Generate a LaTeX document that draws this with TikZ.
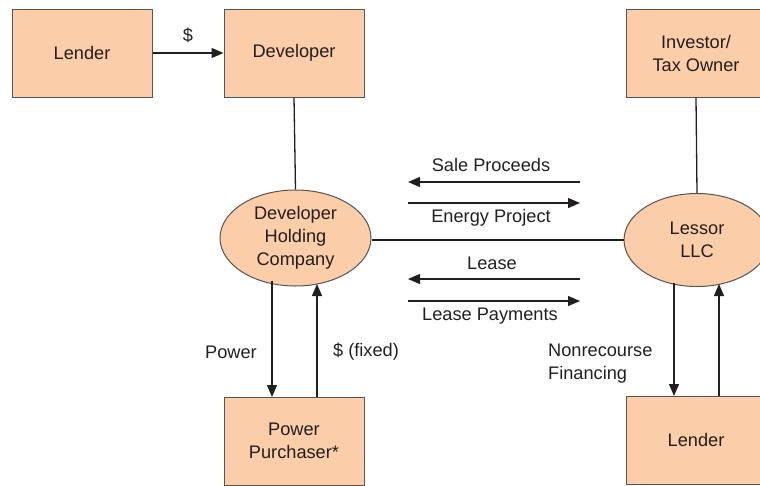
\documentclass[tikz,border=0pt]{standalone}
\usepackage{fontspec}
\setmainfont{Liberation Sans}
\usetikzlibrary{arrows.meta,shapes.geometric}
\definecolor{peach}{HTML}{FBCDA8}
\definecolor{edge}{HTML}{555555}
\definecolor{ink}{HTML}{231F20}
\begin{document}
\begin{tikzpicture}[x=1pt,y=-1pt,
  every node/.style={font=\fontsize{18.2}{23}\selectfont, text=ink},
  boxnode/.style={draw=edge, line width=1pt, fill=peach, minimum width=140pt, minimum height=88pt, inner sep=0pt, align=center},
  ellnode/.style={draw=edge, line width=1pt, fill=peach, ellipse, minimum width=151pt, minimum height=96pt, inner sep=0pt, align=center},
  conn/.style={draw=ink, line width=1.3pt},
  arr/.style={conn, -{Triangle[length=12pt,width=10pt]}},
  lbl/.style={inner sep=0pt}]
\useasboundingbox (0,0) rectangle (760,485);
\clip (0,0) rectangle (760,485);
% nodes
\node[boxnode] (lender1) at (82,53) {Lender};
\node[boxnode] (dev) at (294,53) {Developer};
\node[boxnode] (inv) at (696,53) {Investor/\\Tax Owner};
\node[ellnode] (dhc) at (295.5,238) {Developer\\Holding\\Company};
\node[ellnode, minimum width=146pt, minimum height=93pt] (lessor) at (697,240) {Lessor\\LLC};
\node[boxnode] (pp) at (294,441) {Power\\Purchaser*};
\node[boxnode] (lender2) at (696,440) {Lender};
% connectors
\draw[arr] (lender1.east) -- node[lbl, above=10pt] {\$} (dev.west);
\draw[conn] (dev.south) -- (dhc.north);
\draw[conn] (inv.south) -- (lessor.north);
\draw[conn] (lessor.west) -- (lessor.west -| dhc.east);
% middle arrows
\coordinate (a1) at (580,182); \coordinate (a2) at (408,182);
\coordinate (b1) at (408,203); \coordinate (b2) at (580,203);
\coordinate (c1) at (580,279); \coordinate (c2) at (408,279);
\coordinate (d1) at (408,301); \coordinate (d2) at (580,301);
\draw[arr] (a1) -- (a2);
\node[lbl] (t1) at (491,165) {Sale Proceeds};
\draw[arr] (b1) -- (b2);
\node[lbl] (t2) at (491,218) {Energy Project};
\draw[arr] (c1) -- (c2);
\node[lbl] (t3) at (492,263) {Lease};
\draw[arr] (d1) -- (d2);
\node[lbl] (t4) at (490,316) {Lease Payments};
% power purchaser arrows
\coordinate (p1) at (272,281); \coordinate (p2) at (272,397);
\coordinate (q1) at (317,397); \coordinate (q2) at (317,284);
\draw[arr] (p1) -- (p2);
\draw[arr] (q1) -- (q2);
\node[lbl] (pw) at (231,352) {Power};
\node[lbl] (fx) at (366,352) {\$ (fixed)};
% lessor lender arrows
\coordinate (r1) at (674,283); \coordinate (r2) at (674,396);
\coordinate (s1) at (719,396); \coordinate (s2) at (719,284);
\draw[arr] (r1) -- (r2);
\draw[arr] (s1) -- (s2);
\node[lbl, align=left, anchor=west] (nf) at (548,364) {Nonrecourse\\Financing};
\end{tikzpicture}
\end{document}
